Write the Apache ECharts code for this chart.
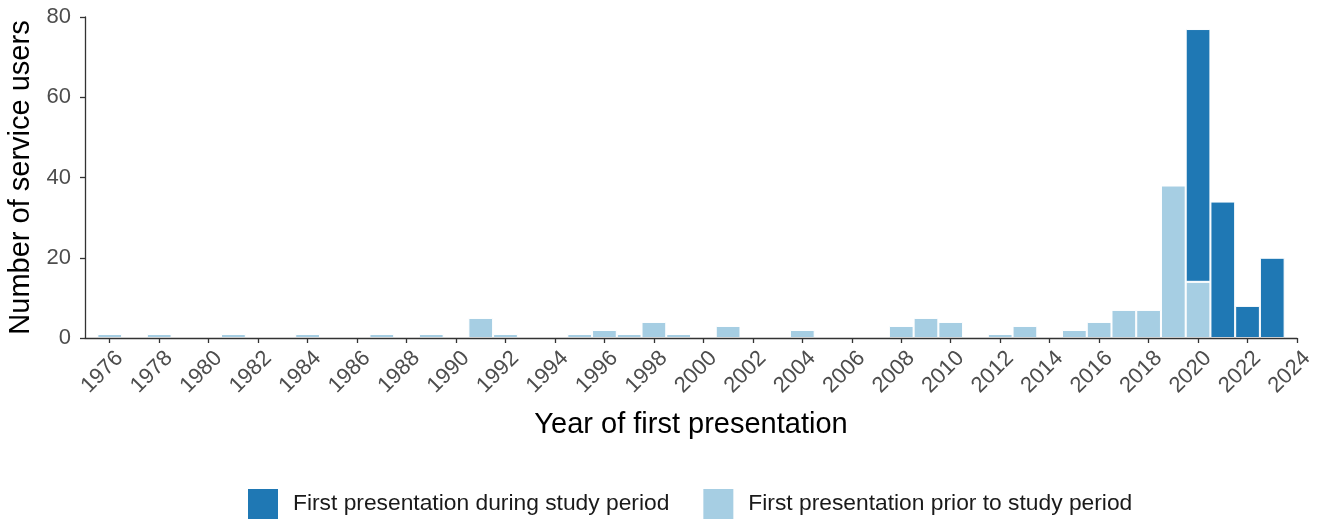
<!DOCTYPE html>
<html>
<head>
<meta charset="utf-8">
<script src="https://cdn.jsdelivr.net/npm/echarts@6/dist/echarts.min.js"></script>
<style>
html,body{margin:0;padding:0;background:#fff;}
#chart{width:1321px;height:522px;}
</style>
</head>
<body>
<div id="chart"></div>
<script>
const years = [1975,1976,1977,1978,1979,1980,1981,1982,1983,1984,1985,1986,1987,1988,1989,1990,1991,1992,1993,1994,1995,1996,1997,1998,1999,2000,2001,2002,2003,2004,2005,2006,2007,2008,2009,2010,2011,2012,2013,2014,2015,2016,2017,2018,2019,2020,2021,2022,2023,2024];
const priorCounts = [0,1,0,1,0,0,1,0,0,1,0,0,1,0,1,0,5,1,0,0,1,2,1,4,1,0,3,0,0,2,0,0,0,3,5,4,0,1,3,0,2,4,7,7,38,14,0,0,0,0];
const duringCounts = [0,0,0,0,0,0,0,0,0,0,0,0,0,0,0,0,0,0,0,0,0,0,0,0,0,0,0,0,0,0,0,0,0,0,0,0,0,0,0,0,0,0,0,0,0,63,34,8,20,0];
const xTicks = [1976,1978,1980,1982,1984,1986,1988,1990,1992,1994,1996,1998,2000,2002,2004,2006,2008,2010,2012,2014,2016,2018,2020,2022,2024];
const yTicks = [0,20,40,60,80];
const seriesNames = ['First presentation during study period','First presentation prior to study period'];
const colors = {during:'#1F78B4', prior:'#A6CEE3'};

const FONT = "'Liberation Sans', Arial, sans-serif";
const clean = arr => arr.map(v => v === 0 ? '-' : v);
const showTick = (i, v) => xTicks.indexOf(Number(v)) !== -1;

const chart = echarts.init(document.getElementById('chart'), null, {renderer:'canvas'});
chart.setOption({
  animation:false,
  backgroundColor:'#fff',
  textStyle:{fontFamily:FONT},
  grid:{left:85, right:24, top:17, bottom:184, containLabel:false, outerBoundsMode:'none'},
  legend:{
    bottom:3, left:248, padding:0,
    itemWidth:30, itemHeight:30, itemGap:34,
    icon:'rect',
    itemStyle:{borderWidth:0},
    textStyle:{fontSize:22.8, color:'#1a1a1a', fontFamily:FONT, padding:[0,0,0,10]},
    data:seriesNames
  },
  xAxis:{
    type:'category', data:years.map(String), boundaryGap:false, z:5,
    name:'Year of first presentation', nameLocation:'middle', nameGap:72,
    nameTextStyle:{fontSize:29, color:'#000', fontFamily:FONT},
    axisLine:{show:true, lineStyle:{color:'#333', width:1.3}},
    axisTick:{show:true, length:5, interval:showTick, lineStyle:{color:'#333', width:1.3}},
    axisLabel:{rotate:45, interval:showTick, fontSize:22, color:'#4d4d4d', margin:7,
      align:'right', verticalAlign:'top', padding:[3,0,0,0], fontFamily:FONT},
    splitLine:{show:false}
  },
  yAxis:{
    type:'value', min:yTicks[0], max:yTicks[yTicks.length-1], interval:20, z:5,
    name:'Number of service users', nameLocation:'middle', nameGap:47,
    nameTextStyle:{fontSize:29, color:'#000', fontFamily:FONT},
    axisLine:{show:true, lineStyle:{color:'#333', width:1.3}},
    axisTick:{show:true, length:5, lineStyle:{color:'#333', width:1.3}},
    axisLabel:{fontSize:22, color:'#4d4d4d', margin:14, fontFamily:FONT},
    splitLine:{show:false}
  },
  series:[
    {
      name:seriesNames[1], type:'bar', stack:'total', barWidth:'100%',
      itemStyle:{color:colors.prior, borderColor:'#fff', borderWidth:1},
      data:clean(priorCounts), z:2
    },
    {
      name:seriesNames[0], type:'bar', stack:'total', barWidth:'100%',
      itemStyle:{color:colors.during, borderColor:'#fff', borderWidth:1},
      data:clean(duringCounts), z:2
    }
  ]
});
</script>
</body>
</html>
